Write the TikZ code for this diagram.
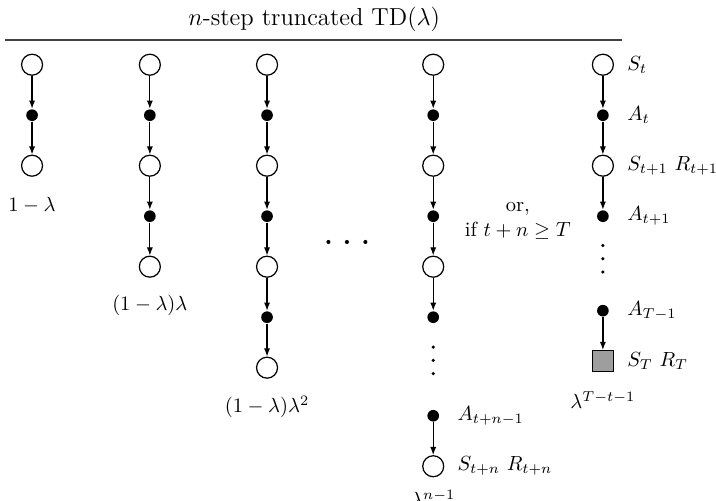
\documentclass[tikz,border=0pt]{standalone}
\usepackage{amsmath,amssymb}
\usetikzlibrary{arrows.meta,positioning,calc}

\begin{document}
\begin{tikzpicture}[>={Latex[length=4pt,width=3pt]},semithick,
    node distance=0.866cm,on grid,
    state/.style={circle,draw,minimum size=0.36cm,inner sep=0pt},
    act/.style={circle,fill=black,minimum size=0.2cm,inner sep=0pt},
    term/.style={rectangle,draw,fill=black!38,minimum size=0.36cm,inner sep=0pt},
    pt/.style={circle,fill=black,minimum size=1.7pt,inner sep=0pt},
    lbl/.style={anchor=west}]
    \useasboundingbox (0,0) rectangle (12.28,-8.58);
    \node (title) at (5.39,-0.33) {\large $n$-step truncated TD($\lambda$)};
    \draw[line width=1.2pt,black!75] (0.09,-0.69) -- (10.67,-0.69);

    % complete backups of 1, 2 and 3 steps
    \foreach \x/\n/\w in {0.55/1/1-\lambda, 2.57/2/(1-\lambda)\lambda, 4.58/3/(1-\lambda)\lambda^2} {
        \node[state] (s\n-0) at (\x,-1.11) {};
        \foreach \k [count=\j from 0] in {1,...,\n} {
            \node[act,below=of s\n-\j] (a\n-\k) {};
            \node[state,below=of a\n-\k] (s\n-\k) {};
            \draw[->] (s\n-\j) -- (a\n-\k);
            \draw[->] (a\n-\k) -- (s\n-\k);
        }
        \node[below=0.67cm of s\n-\n] (w\n) {$\w$};
    }
    \coordinate (more) at (5.95,-4.15);
    \foreach \i in {-1,0,1}
        \node[pt,minimum size=2pt] at ($(more)+(\i*0.317,0)$) {};

    % n steps
    \node[state] (s4-0) at (7.43,-1.11) {};
    \node[act,below=of s4-0] (a4-1) {};
    \node[state,below=of a4-1] (s4-1) {};
    \node[act,below=of s4-1] (a4-2) {};
    \node[state,below=of a4-2] (s4-2) {};
    \node[act,below=of s4-2] (a4-3) {};
    \draw[->] (s4-0) -- (a4-1);
    \draw[->] (a4-1) -- (s4-1);
    \draw[->] (s4-1) -- (a4-2);
    \draw[->] (a4-2) -- (s4-2);
    \draw[->] (s4-2) -- (a4-3);
    \coordinate[below=0.74cm of a4-3] (v4);
    \node[act,below=0.84cm of v4] (a4-n) {};
    \node[state,below=of a4-n] (s4-n) {};
    \draw[->] (a4-n) -- (s4-n);
    \node[right=0.29cm of a4-n,lbl] {$A_{t+n-1}$};
    \node[right=0.29cm of s4-n,lbl] {$S_{t+n}$ $R_{t+n}$};
    \node[below=0.55cm of s4-n] (w4) {$\lambda^{n-1}$};

    \node[align=center] (alt) at (8.88,-3.79) {or,\\ if $t+n\geq T$};

    % episode ends first
    \node[state] (s5-0) at (10.34,-1.11) {};
    \node[act,below=of s5-0] (a5-1) {};
    \node[state,below=of a5-1] (s5-1) {};
    \node[act,below=of s5-1] (a5-2) {};
    \draw[->] (s5-0) -- (a5-1);
    \draw[->] (a5-1) -- (s5-1);
    \draw[->] (s5-1) -- (a5-2);
    \coordinate[below=0.73cm of a5-2] (v5);
    \node[act,below=0.78cm of v5] (a5-T) {};
    \node[term,below=of a5-T] (sT) {};
    \draw[->] (a5-T) -- (sT);
    \node[right=0.29cm of s5-0,lbl] {$S_t$};
    \node[right=0.29cm of a5-1,lbl] {$A_t$};
    \node[right=0.29cm of s5-1,lbl] {$S_{t+1}$ $R_{t+1}$};
    \node[right=0.29cm of a5-2,lbl] {$A_{t+1}$};
    \node[right=0.29cm of a5-T,lbl] {$A_{T-1}$};
    \node[right=0.29cm of sT,lbl] {$S_T$ $R_T$};
    \node[below=0.67cm of sT] (w5) {$\lambda^{T-t-1}$};

    \foreach \v in {v4,v5}
        \foreach \i in {-1,0,1}
            \node[pt] at ($(\v)+(0,\i*0.228)$) {};
\end{tikzpicture}
\end{document}
